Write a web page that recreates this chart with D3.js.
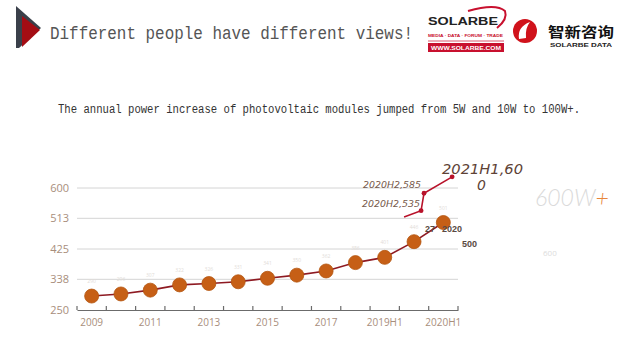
<!DOCTYPE html>
<html>
<head>
<meta charset="utf-8">
<script src="https://cdn.jsdelivr.net/npm/d3@7"></script>
<style>
  html, body { margin: 0; padding: 0; background: #fff; }
  svg { display: block; }
</style>
</head>
<body>
<div id="chart"></div>
<script>
const width = 640;
const height = 363;

// data
const categories = ['2009', '2010', '2011', '2012', '2013', '2014', '2015', '2016', '2017', '2018', '2019H1', '2019H2', '2020H1'];
const powerValues = [290, 296, 307, 322, 326, 331, 341, 350, 362, 386, 401, 446, 501];
const labeledCats = ['2009', '2011', '2013', '2015', '2017', '2019H1', '2020H1'];
const yTicks = [250, 338, 425, 513, 600];
// hand-drawn overlay: position in category index units, value
const redIndex = [10.66, 11.24, 11.34, 12.3];
const redValues = [517, 535, 585, 632];

const margin = { top: 188, bottom: 53, left: 77, right: 182 }

const x = d3.scaleBand().domain(categories).range([margin.left, width - margin.right]).padding(0);
const y = d3.scaleLinear().domain([250, 600]).range([height - margin.bottom, margin.top]);
const xi = d3.scaleLinear().domain([0, categories.length - 1])
    .range([x(categories[0]) + x.bandwidth() / 2, x(categories[categories.length - 1]) + x.bandwidth() / 2]);

const svg = d3.select('#chart').append('svg')
    .attr('width', width)
    .attr('height', height)

// ---- header ----
svg.append('polygon')
    .attr('points', '16,6 41,28 19,48 16,48')
    .attr('fill', '#3a404a')
svg.append('polygon')
    .attr('points', '22,16 40,30 22,47')
    .attr('fill', '#a40d14')

svg.append('text')
    .attr('x', 50).attr('y', 39)
    .attr('textLength', 363).attr('lengthAdjust', 'spacingAndGlyphs')
    .style('font-family', '"Liberation Mono", monospace')
    .style('font-size', '19px')
    .style('fill', '#555')
    .text('Different people have different views!')

// SOLARBE logo
const logo = svg.append('g')
logo.append('path')
    .attr('d', 'M468,11 Q496,3 505,11 Q508,19 497,28')
    .attr('fill', 'none').attr('stroke', '#c8102e').attr('stroke-width', 2)
logo.append('text')
    .attr('x', 428).attr('y', 25)
    .attr('textLength', 70).attr('lengthAdjust', 'spacingAndGlyphs')
    .style('font-family', '"Liberation Sans", sans-serif').style('font-weight', 'bold')
    .style('font-size', '11px').style('fill', '#222')
    .text('SOLARBE')
logo.append('text')
    .attr('x', 428).attr('y', 37)
    .attr('textLength', 75).attr('lengthAdjust', 'spacingAndGlyphs')
    .style('font-family', '"Liberation Sans", sans-serif').style('font-weight', 'bold')
    .style('font-size', '4px').style('fill', '#c8102e')
    .text('MEDIA · DATA · FORUM · TRADE')
logo.append('line')
    .attr('x1', 428).attr('x2', 504).attr('y1', 41).attr('y2', 41)
    .attr('stroke', '#c8102e').attr('stroke-width', 0.7)
logo.append('rect')
    .attr('x', 428).attr('y', 43).attr('width', 76).attr('height', 9)
    .attr('fill', '#c8102e')
logo.append('text')
    .attr('x', 431).attr('y', 50)
    .attr('textLength', 70).attr('lengthAdjust', 'spacingAndGlyphs')
    .style('font-family', '"Liberation Sans", sans-serif').style('font-weight', 'bold')
    .style('font-size', '6px').style('fill', '#fff')
    .text('WWW.SOLARBE.COM')

// second logo
logo.append('circle')
    .attr('cx', 525).attr('cy', 31).attr('r', 12)
    .attr('fill', '#d0121b')
logo.append('path')
    .attr('d', 'M519,39 Q517,27 530,22 Q525,28 526,38 Z')
    .attr('fill', '#fff')
logo.append('text')
    .attr('x', 548).attr('y', 37)
    .attr('textLength', 66).attr('lengthAdjust', 'spacingAndGlyphs')
    .style('font-family', '"Noto Sans CJK SC", sans-serif').style('font-weight', 'bold')
    .style('font-size', '14px').style('fill', '#111')
    .text('智新咨询')
logo.append('text')
    .attr('x', 550).attr('y', 47)
    .attr('textLength', 62).attr('lengthAdjust', 'spacingAndGlyphs')
    .style('font-family', '"Liberation Sans", sans-serif').style('font-weight', 'bold')
    .style('font-size', '5px').style('fill', '#222')
    .text('SOLARBE DATA')

// subtitle
svg.append('text')
    .attr('x', 58).attr('y', 113)
    .attr('textLength', 522).attr('lengthAdjust', 'spacingAndGlyphs')
    .style('font-family', '"Liberation Mono", monospace')
    .style('font-size', '12px')
    .style('fill', '#333')
    .text('The annual power increase of photovoltaic modules jumped from 5W and 10W to 100W+.')

// ---- chart ----
const plot = svg.append('g')

// grid
plot.append('g')
    .selectAll('line')
    .data(yTicks.filter(d => d !== 250))
    .join('line')
    .attr('x1', margin.left).attr('x2', width - margin.right)
    .attr('y1', d => y(d)).attr('y2', d => y(d))
    .attr('stroke', '#d4d4d4').attr('stroke-width', 1)

// y axis labels
plot.append('g')
    .attr('transform', `translate(${margin.left - 8},0)`)
    .call(d3.axisLeft(y).tickValues(yTicks).tickSize(0).tickPadding(0))
    .call(g => g.select('.domain').remove())
    .call(g => g.selectAll('text')
        .style('font-family', '"Open Sans", sans-serif')
        .style('font-size', '11px')
        .style('fill', '#a88e7c'))

// x axis
plot.append('g')
    .attr('transform', `translate(0,${y(250)})`)
    .call(d3.axisBottom(x).tickValues(labeledCats).tickSize(0).tickPadding(9))
    .call(g => g.select('.domain').attr('stroke', '#6b6b6b').attr('stroke-width', 1.2))
    .call(g => g.selectAll('text')
        .style('font-family', '"Open Sans", sans-serif')
        .style('font-size', '10px')
        .style('fill', '#a88e7c'))

// boundary ticks, pointing up
plot.append('g')
    .selectAll('line')
    .data(categories.map(c => x(c)).concat([x(categories[categories.length - 1]) + x.bandwidth()]))
    .join('line')
    .attr('x1', d => d).attr('x2', d => d)
    .attr('y1', y(250)).attr('y2', y(250) - 4)
    .attr('stroke', '#6b6b6b').attr('stroke-width', 1.2)

const series = categories.map((c, i) => ({ c: c, v: powerValues[i] }))

const line = d3.line()
    .x(d => x(d.c) + x.bandwidth() / 2)
    .y(d => y(d.v))

plot.append('path')
    .datum(series)
    .attr('d', line)
    .attr('fill', 'none')
    .attr('stroke', '#8e1a22')
    .attr('stroke-width', 1.6)

// faint value labels
plot.append('g')
    .selectAll('text')
    .data(series)
    .join('text')
    .attr('x', d => x(d.c) + x.bandwidth() / 2)
    .attr('y', d => y(d.v) - 13)
    .attr('text-anchor', 'middle')
    .style('font-family', '"Open Sans", sans-serif')
    .style('font-size', '5px')
    .style('fill', '#e2dcd8')
    .text(d => d.v)

plot.append('g')
    .selectAll('circle')
    .data(series)
    .join('circle')
    .attr('cx', d => x(d.c) + x.bandwidth() / 2)
    .attr('cy', d => y(d.v))
    .attr('r', 7)
    .attr('fill', '#c65f16')
    .attr('stroke', '#b4560f')
    .attr('stroke-width', 0.8)

// overlay (red) series
const redData = redIndex.map((d, i) => ({ i: d, v: redValues[i] }))
const redLine = d3.line()
    .x(d => xi(d.i))
    .y(d => y(d.v))

plot.append('path')
    .datum(redData)
    .attr('d', redLine)
    .attr('fill', 'none')
    .attr('stroke', '#b8122a')
    .attr('stroke-width', 1.6)

plot.append('g')
    .selectAll('circle')
    .data(redData.slice(1))
    .join('circle')
    .attr('cx', d => xi(d.i))
    .attr('cy', d => y(d.v))
    .attr('r', 2.4)
    .attr('fill', '#b8122a')

const hand = '"DejaVu Sans", sans-serif'
const annot = plot.append('g')
    .style('font-family', hand)
    .style('font-style', 'italic')
    .style('fill', '#76584a')

annot.append('text')
    .attr('x', 363).attr('y', 188)
    .attr('textLength', 58).attr('lengthAdjust', 'spacingAndGlyphs')
    .style('font-size', '9px')
    .text('2020H2,585')
annot.append('text')
    .attr('x', 362).attr('y', 207)
    .attr('textLength', 58).attr('lengthAdjust', 'spacingAndGlyphs')
    .style('font-size', '9px')
    .text('2020H2,535')
annot.append('text')
    .attr('x', 442).attr('y', 174)
    .attr('textLength', 81).attr('lengthAdjust', 'spacingAndGlyphs')
    .style('font-size', '14px')
    .style('fill', '#5e4236')
    .text('2021H1,60')
annot.append('text')
    .attr('x', 477).attr('y', 190)
    .style('font-size', '14px')
    .style('fill', '#5e4236')
    .text('0')

const small = plot.append('g')
    .style('font-family', '"Liberation Sans Narrow", "Liberation Sans", sans-serif')
    .style('font-weight', 'bold')
    .style('font-size', '9px')
    .style('fill', '#5a4a42')
small.append('text').attr('x', 425).attr('y', 232).text('27')
small.append('text').attr('x', 442).attr('y', 232).text('2020')
small.append('text').attr('x', 462).attr('y', 247).text('500')

// right-side faint notes
const big = svg.append('text')
    .attr('x', 535).attr('y', 206)
    .style('font-family', 'Lato, sans-serif')
    .style('font-weight', 300)
    .style('font-style', 'italic')
    .style('font-size', '23px')
big.append('tspan').style('fill', '#dadada').text('600W')
big.append('tspan').style('fill', '#e8863a').text('+')

svg.append('text')
    .attr('x', 543).attr('y', 256)
    .style('font-family', '"Open Sans", sans-serif')
    .style('font-size', '8px')
    .style('fill', '#dcdcdc')
    .text('600')
</script>
</body>
</html>
